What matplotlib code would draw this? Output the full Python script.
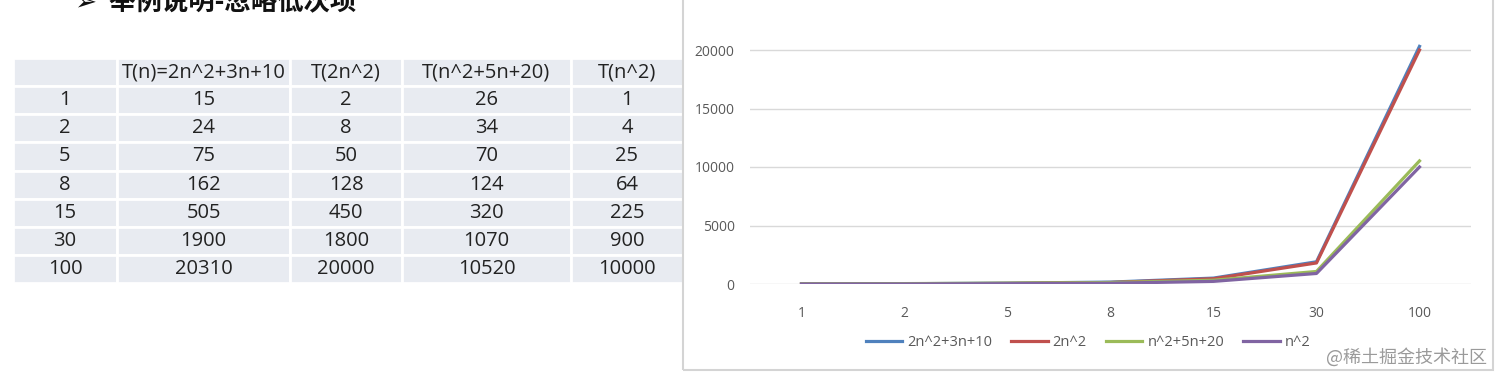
import matplotlib
matplotlib.use("Agg")
import matplotlib.pyplot as plt
import matplotlib.patches as patches
from matplotlib.lines import Line2D

# --- data ---
n_values = ["1", "2", "5", "8", "15", "30", "100"]
t_full = [15, 24, 75, 162, 505, 1900, 20310]
t_2n2 = [2, 8, 50, 128, 450, 1800, 20000]
t_n2_5n = [26, 34, 70, 124, 320, 1070, 10520]
t_n2 = [1, 4, 25, 64, 225, 900, 10000]

table_header = ["", "T(n)=2n^2+3n+10", "T(2n^2)", "T(n^2+5n+20)", "T(n^2)"]
series_labels = ["2n^2+3n+10", "2n^2", "n^2+5n+20", "n^2"]
series_colors = ["#4F81BD", "#C0504D", "#9BBB59", "#8064A2"]
y_ticks = [0, 5000, 10000, 15000, 20000]

W, H = 1501, 381
fig = plt.figure(figsize=(W / 100, H / 100), dpi=100)
fig.patch.set_facecolor("white")


def px_box(x0, y0, x1, y1):
    # pixel box (top-left origin) -> figure fraction rect
    return [x0 / W, 1 - y1 / H, (x1 - x0) / W, (y1 - y0) / H]


# heading, cut off at the top edge like in the screenshot
fig.text(75 / W, 1 - 3 / H, "➢  举例说明-忽略低次项", fontsize=19, fontweight="bold",
         family=["Noto Sans CJK SC", "DejaVu Sans"], va="center", ha="left", color="#111111")

# --- table ---
tax = fig.add_axes(px_box(13, 58, 683, 283))
tax.axis("off")
rows = []
for i, n in enumerate(n_values):
    rows.append([n, str(t_full[i]), str(t_2n2[i]), str(t_n2_5n[i]), str(t_n2[i])])
col_w = [104, 173, 112, 169, 112]
col_w = [c / sum(col_w) for c in col_w]
tbl = tax.table(cellText=rows, colLabels=table_header, colWidths=col_w,
                bbox=[0, 0, 1, 1], cellLoc="center")
tbl.auto_set_font_size(False)
for (r, c), cell in tbl.get_celld().items():
    cell.set_facecolor("#e8ebf1")
    cell.set_edgecolor("white")
    cell.set_linewidth(2)
    cell.set_text_props(fontsize=14.5, family="Open Sans", color="#222222")

# --- chart ---
ax = fig.add_axes(px_box(750, 0, 1471, 284))
x = range(len(n_values))
for vals, lab, col in zip([t_full, t_2n2, t_n2_5n, t_n2], series_labels, series_colors):
    ax.plot(x, vals, color=col, lw=2.3, label=lab, solid_joinstyle="round")
ax.set_xlim(-0.5, len(n_values) - 0.5)
ax.set_ylim(0, 20000 * 284 / 234)
ax.set_yticks(y_ticks)
ax.set_yticklabels([str(v) for v in y_ticks])
ax.set_xticks(list(x))
ax.set_xticklabels(n_values)
ax.tick_params(axis="both", length=0, labelsize=10, labelcolor="#595959")
ax.tick_params(axis="y", pad=11)
ax.tick_params(axis="x", pad=16)
for lab in ax.get_xticklabels() + ax.get_yticklabels():
    lab.set_family("Open Sans")
ax.grid(axis="y", color="#d9d9d9", lw=1)
ax.set_axisbelow(True)
for s in ax.spines.values():
    s.set_visible(False)
ax.set_facecolor("none")

handles = [Line2D([], [], color=c, lw=2.3) for c in series_colors]
fig.legend(handles, series_labels, loc="center", bbox_to_anchor=(1088 / W, 1 - 343 / H),
           ncol=4, frameon=False, handlelength=2.5, handletextpad=0.35, columnspacing=1.3,
           prop={"family": "Open Sans", "size": 10.5}, labelcolor="#595959")

# chart frame
frame = patches.Rectangle((683 / W, 1 - 370 / H), (1493 - 683) / W, 370 / H + 0.05,
                          transform=fig.transFigure, fill=False, edgecolor="#d4d4d4",
                          lw=1.5, clip_on=False)
fig.patches.append(frame)

# watermark
fig.text(1487 / W, 1 - 357 / H, "@稀土掘金技术社区", fontsize=13, color="#9a9a9a",
         family=["Noto Sans CJK SC", "DejaVu Sans"], ha="right", va="center")

fig.savefig("out.png", dpi=100)
